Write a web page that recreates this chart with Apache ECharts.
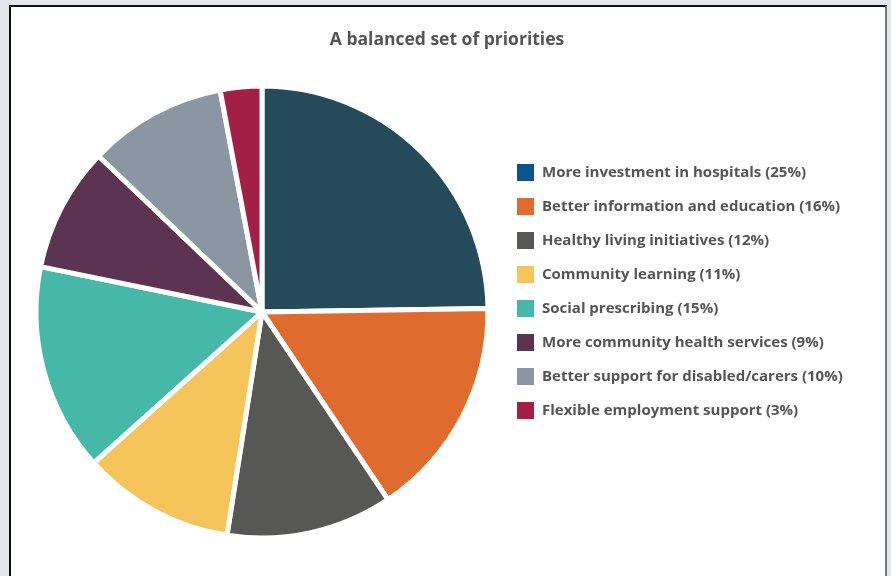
<!DOCTYPE html>
<html>
<head>
<meta charset="utf-8">
<script src="https://cdn.jsdelivr.net/npm/echarts@6/dist/echarts.min.js"></script>
<style>
html, body { margin: 0; padding: 0; background: #e6e7eb; overflow: hidden; }
#frame { position: absolute; left: 9px; top: 5px; width: 874px; height: 600px; background: #fff;
  border-left: 2px solid #111; border-top: 2px solid #111; border-right: 2px solid #777; }
#main { position: absolute; left: 0; top: 0; width: 891px; height: 576px; }
</style>
</head>
<body>
<div id="frame"></div>
<div id="main"></div>
<script>
var categories = [
    'More investment in hospitals',
    'Better information and education',
    'Healthy living initiatives',
    'Community learning',
    'Social prescribing',
    'More community health services',
    'Better support for disabled/carers',
    'Flexible employment support'
];
var values = [25, 16, 12, 11, 15, 9, 10, 3];
var sliceColors = ['#254b5a', '#e06b2e', '#575756', '#f5c55c', '#45b8a8', '#5c3452', '#8a97a2', '#a31f45'];
var legendColors = ['#0b548f', '#e06b2e', '#575756', '#f5c55c', '#45b8a8', '#5c3452', '#8a97a2', '#a31f45'];

var myChart = echarts.init(document.getElementById('main'));

var pieData = [];
var legendData = [];
for (var i = 0; i < categories.length; i++) {
    pieData.push({ name: categories[i], value: values[i], itemStyle: { color: sliceColors[i] } });
    legendData.push({ name: categories[i], itemStyle: { color: legendColors[i] } });
}

var option = {
    animation: false,
    title: {
        text: 'A balanced set of priorities',
        left: 447,
        textAlign: 'center',
        top: 31,
        padding: 0,
        textStyle: { fontFamily: 'Open Sans', fontSize: 17.5, fontWeight: 'bold', color: '#555' }
    },
    legend: {
        orient: 'vertical',
        left: 515,
        top: 162,
        padding: 0,
        itemWidth: 19,
        itemHeight: 19,
        itemGap: 13,
        icon: 'rect',
        data: legendData,
        formatter: function (name) {
            return name + ' (' + values[categories.indexOf(name)] + '%)';
        },
        textStyle: { fontFamily: 'Open Sans', fontSize: 15, fontWeight: 'bold', color: '#555',
            lineHeight: 19, padding: [0, 0, 0, 2] }
    },
    series: [{
        type: 'pie',
        center: [262, 312],
        radius: 226,
        startAngle: 90,
        clockwise: true,
        label: { show: false },
        labelLine: { show: false },
        itemStyle: { borderColor: '#fff', borderWidth: 5 },
        emphasis: { disabled: true },
        data: pieData
    }]
};
myChart.setOption(option);
</script>
</body>
</html>
